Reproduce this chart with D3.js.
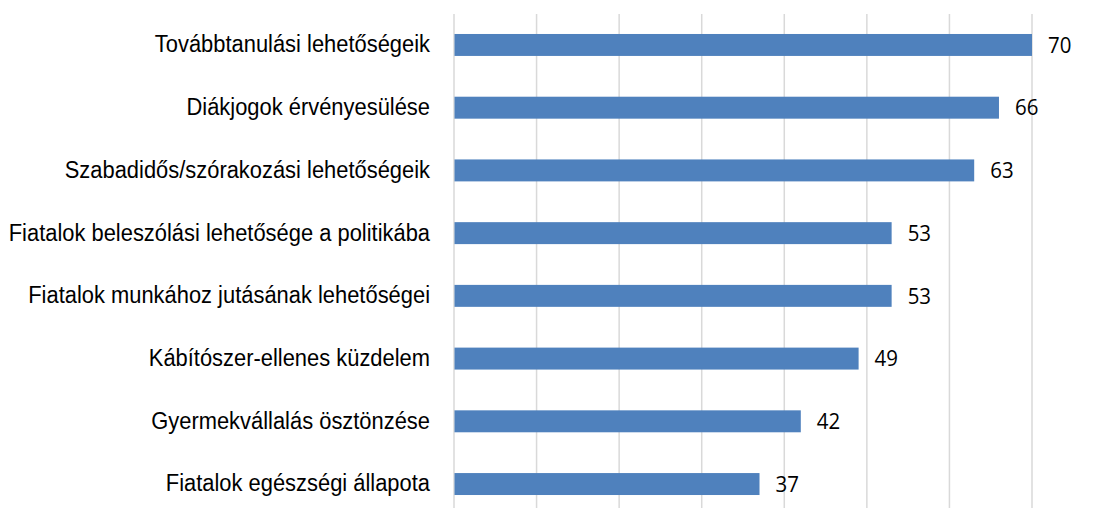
<!DOCTYPE html>
<html><head><meta charset="utf-8">
<script src="https://cdn.jsdelivr.net/npm/d3@7"></script>
<style>body{margin:0;background:#fff}</style>
</head><body>
<svg id="c" width="1104" height="508"></svg>
<script>
const categories = [
  "Továbbtanulási lehetőségeik",
  "Diákjogok érvényesülése",
  "Szabadidős/szórakozási lehetőségeik",
  "Fiatalok beleszólási lehetősége a politikába",
  "Fiatalok munkához jutásának lehetőségei",
  "Kábítószer-ellenes küzdelem",
  "Gyermekvállalás ösztönzése",
  "Fiatalok egészségi állapota"
];
const values = [70, 66, 63, 53, 53, 49, 42, 37];
const ticks = [0, 10, 20, 30, 40, 50, 60, 70];

const svg = d3.select("#c");
const x = d3.scaleLinear().domain([0, 70]).range([454, 1032]);
const y = d3.scaleBand().domain(categories).range([13.6, 515.4]).paddingInner(0.65).paddingOuter(0.325);

svg.append("g").selectAll("line").data(ticks).join("line")
  .attr("x1", d => x(d)).attr("x2", d => x(d))
  .attr("y1", 14).attr("y2", 508)
  .attr("stroke", "#d9d9d9").attr("stroke-width", 1.5);

svg.append("g").selectAll("rect").data(values).join("rect")
  .attr("x", x(0) + 0.5)
  .attr("y", (d, i) => y(categories[i]))
  .attr("width", d => x(d) - x(0) - 0.5)
  .attr("height", y.bandwidth())
  .attr("fill", "#4f81bd");

svg.append("g").selectAll("text").data(categories).join("text")
  .attr("transform", d => `translate(430,${y(d) + y.bandwidth() / 2 + 7.4}) scale(0.913,1)`)
  .attr("text-anchor", "end")
  .attr("font-family", "'Liberation Sans', Arial, sans-serif")
  .attr("font-size", 24)
  .attr("fill", "#000")
  .text(d => d);

svg.append("g").selectAll("text").data(values).join("text")
  .attr("transform", (d, i) => `translate(${x(d) + 16},${y(categories[i]) + y.bandwidth() / 2 + 7.7}) scale(0.93,1)`)
  .attr("font-family", "'Open Sans', sans-serif")
  .attr("font-size", 22)
  .attr("fill", "#000")
  .text(d => d);
</script>
</body></html>
